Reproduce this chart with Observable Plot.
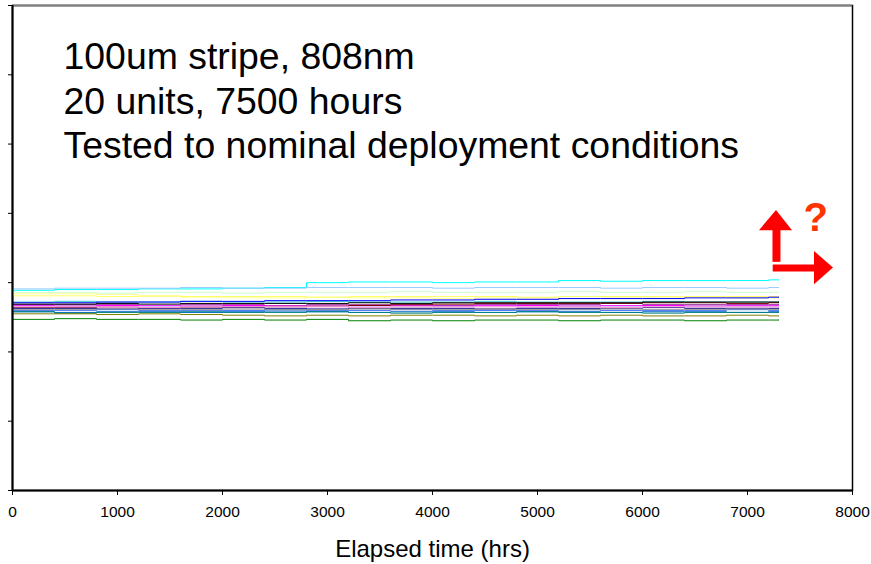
<!DOCTYPE html>
<html>
<head>
<meta charset="utf-8">
<script src="https://cdn.jsdelivr.net/npm/d3@7"></script>
<script src="https://cdn.jsdelivr.net/npm/@observablehq/plot@0.6"></script>
<style>
  body { margin: 0; background: #fff; }
  #chart svg { display: block; }
</style>
</head>
<body>
<div id="chart"></div>
<script>
// Elapsed time sample points (hrs)
const times = [0,400,800,1200,1600,2000,2400,2800,3200,3600,4000,4400,4800,5200,5600,6000,6400,6800,7200,7300];

// Per-unit values (arbitrary y units)
const u01 = [2.89,2.90,2.90,2.91,2.91,2.92,2.93,3.00,3.01,3.01,3.00,3.01,3.01,3.03,3.02,3.03,3.03,3.03,3.04,3.04];
const u02 = [2.91,2.92,2.92,2.92,2.93,2.92,2.92,2.93,2.93,2.93,2.92,2.93,2.93,2.93,2.92,2.93,2.93,2.92,2.93,2.93];
const u03 = [2.86,2.86,2.85,2.86,2.86,2.85,2.86,2.86,2.86,2.87,2.86,2.86,2.86,2.87,2.86,2.86,2.87,2.86,2.86,2.86];
const u04 = [2.84,2.84,2.83,2.80,2.79,2.78,2.78,2.79,2.78,2.78,2.77,2.78,2.78,2.77,2.78,2.78,2.79,2.78,2.78,2.78];
const u05 = [2.81,2.81,2.80,2.81,2.80,2.80,2.80,2.79,2.80,2.80,2.80,2.80,2.79,2.80,2.80,2.80,2.80,2.80,2.80,2.80];
const u06 = [2.72,2.73,2.72,2.72,2.73,2.72,2.72,2.73,2.72,2.72,2.72,2.73,2.72,2.72,2.72,2.73,2.72,2.72,2.72,2.72];
const u07 = [2.71,2.71,2.72,2.72,2.73,2.73,2.74,2.74,2.74,2.75,2.75,2.76,2.76,2.77,2.77,2.77,2.78,2.78,2.79,2.79];
const u08 = [2.68,2.68,2.68,2.67,2.68,2.68,2.67,2.68,2.68,2.68,2.67,2.68,2.68,2.68,2.67,2.68,2.68,2.68,2.68,2.68];
const u09 = [2.67,2.66,2.67,2.67,2.66,2.67,2.67,2.66,2.67,2.67,2.66,2.67,2.67,2.66,2.67,2.67,2.66,2.67,2.67,2.67];
const u10 = [2.64,2.64,2.65,2.64,2.65,2.65,2.66,2.66,2.67,2.68,2.69,2.70,2.70,2.70,2.70,2.71,2.71,2.70,2.71,2.71];
const u11 = [2.66,2.66,2.65,2.66,2.66,2.65,2.66,2.66,2.65,2.66,2.66,2.66,2.65,2.66,2.66,2.65,2.66,2.66,2.66,2.66];
const u12 = [2.63,2.63,2.62,2.63,2.63,2.64,2.63,2.62,2.63,2.63,2.63,2.62,2.63,2.63,2.63,2.64,2.63,2.63,2.63,2.63];
const u13 = [2.65,2.65,2.65,2.64,2.65,2.65,2.65,2.65,2.64,2.65,2.65,2.65,2.65,2.65,2.64,2.65,2.65,2.65,2.65,2.65];
const u14 = [2.60,2.60,2.61,2.60,2.60,2.60,2.61,2.60,2.60,2.61,2.60,2.60,2.60,2.61,2.60,2.60,2.60,2.61,2.60,2.60];
const u15 = [2.58,2.57,2.58,2.58,2.57,2.58,2.59,2.58,2.57,2.58,2.58,2.57,2.58,2.58,2.57,2.58,2.58,2.57,2.58,2.58];
const u16 = [2.58,2.56,2.57,2.57,2.58,2.57,2.57,2.58,2.57,2.56,2.57,2.57,2.58,2.57,2.57,2.56,2.57,2.57,2.57,2.57];
const u17 = [2.55,2.55,2.54,2.55,2.54,2.53,2.52,2.53,2.52,2.53,2.53,2.52,2.53,2.52,2.53,2.52,2.52,2.53,2.52,2.52];
const u18 = [2.61,2.61,2.62,2.61,2.61,2.62,2.61,2.61,2.62,2.61,2.61,2.62,2.61,2.61,2.62,2.61,2.61,2.62,2.61,2.61];
const u19 = [2.47,2.48,2.47,2.47,2.46,2.47,2.46,2.47,2.45,2.46,2.45,2.46,2.46,2.45,2.46,2.46,2.45,2.46,2.46,2.46];
const u20 = [2.69,2.69,2.70,2.69,2.70,2.70,2.70,2.70,2.71,2.70,2.71,2.71,2.71,2.71,2.71,2.72,2.72,2.72,2.72,2.72];

const unitNames = ["U01","U02","U03","U04","U05","U06","U07","U08","U09","U10","U11","U12","U13","U14","U15","U16","U17","U18","U19","U20"];
const unitValues = [u01,u02,u03,u04,u05,u06,u07,u08,u09,u10,u11,u12,u13,u14,u15,u16,u17,u18,u19,u20];
const unitColors = ["#00FFFF","#99CCFF","#CCFFCC","#FFFF99","#FFFF66","#33CCCC","#0000FF","#800080","#FF00FF","#800000",
                    "#CC99FF","#000080","#FF99CC","#3366FF","#0066CC","#008080","#808000","#969696","#008000","#000000"];

// Axis ticks
const xTicks = [0,1000,2000,3000,4000,5000,6000,7000,8000];
const yTicks = [0,1,2,3,4,5,6,7];

// Annotation text
const titleLines = ["100um stripe, 808nm", "20 units, 7500 hours", "Tested to nominal deployment conditions"];
const xLabel = "Elapsed time (hrs)";

// Annotation arrows (data units)
const upShaft = [{x: 7276, y: 3.30}, {x: 7276, y: 3.76}];
const upHead = [{x: 7114, y1: 3.75, y2: 3.75}, {x: 7276, y1: 3.75, y2: 4.04}, {x: 7429, y1: 3.75, y2: 3.75}];
const rightShaft = [{x: 7240, y: 3.21}, {x: 7645, y: 3.21}];
const rightHead = [{y: 2.97, x1: 7638, x2: 7638}, {y: 3.21, x1: 7638, x2: 7819}, {y: 3.45, x1: 7638, x2: 7638}];
const question = [{x: 7650, y: 3.93, t: "?"}];

const rows = [];
unitNames.forEach((name, i) => {
  times.forEach((t, j) => rows.push({unit: name, time: t, value: unitValues[i][j]}));
});

const font = "'Liberation Sans', Arial, Helvetica, sans-serif";

const chart = Plot.plot({
  width: 871,
  height: 564,
  marginLeft: 12,
  marginRight: 19,
  marginTop: 5,
  marginBottom: 74,
  style: {fontFamily: font, background: "#fff", color: "#000"},
  x: {domain: [0, 8000]},
  y: {domain: [0, 7]},
  color: {domain: unitNames, range: unitColors},
  marks: [
    Plot.frame({stroke: "#000", strokeWidth: 1.5}),
    Plot.ruleY([7], {stroke: "#808080", strokeWidth: 2}),
    Plot.line(rows, {x: "time", y: "value", z: "unit", stroke: "unit", strokeWidth: 1, curve: "step-after"}),
    Plot.axisX({ticks: xTicks, tickSize: 5, tickPadding: 10, fontSize: 15.5, label: null, tickFormat: d => String(d)}),
    Plot.axisY({ticks: yTicks, tickSize: 4, tickFormat: () => "", label: null}),
    Plot.ruleX([0], {stroke: "#000", strokeWidth: 2}),
    Plot.ruleY([0], {stroke: "#000", strokeWidth: 2}),
    Plot.text([titleLines.join("\n")], {frameAnchor: "top-left", textAnchor: "start", lineAnchor: "top", dx: 51, dy: 32, fontSize: 37.4, lineHeight: 1.19, fill: "#000"}),
    Plot.text([xLabel], {frameAnchor: "bottom", dy: 66, fontSize: 24, fill: "#000"}),
    Plot.line(upShaft, {x: "x", y: "y", stroke: "#FF0000", strokeWidth: 8, strokeLinecap: "butt"}),
    Plot.areaY(upHead, {x: "x", y1: "y1", y2: "y2", fill: "#FF0000"}),
    Plot.line(rightShaft, {x: "x", y: "y", stroke: "#FF0000", strokeWidth: 7, strokeLinecap: "butt"}),
    Plot.areaX(rightHead, {y: "y", x1: "x1", x2: "x2", fill: "#FF0000"}),
    Plot.text(question, {x: "x", y: "y", text: "t", fill: "#FF3300", fontSize: 40, fontWeight: "bold"})
  ]
});

document.getElementById("chart").appendChild(chart);
</script>
</body>
</html>
